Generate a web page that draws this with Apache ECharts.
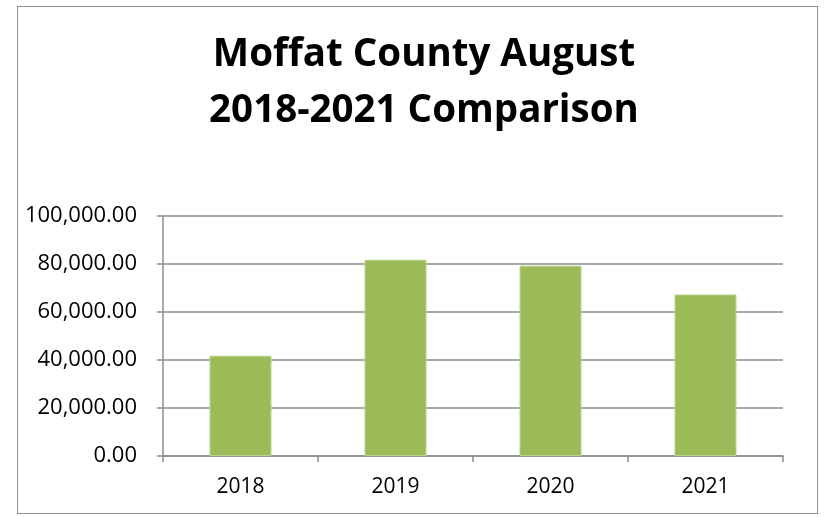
<!DOCTYPE html>
<html><head><meta charset="utf-8">
<script src="https://cdn.jsdelivr.net/npm/echarts@6/dist/echarts.min.js"></script>
<style>html,body{margin:0;padding:0;background:#fff}#c{width:827px;height:517px}
#frame{position:absolute;left:17px;top:6px;width:801px;height:508px;border:1.5px solid #8c8c8c;box-sizing:border-box;pointer-events:none}</style>
</head><body><div id="c"></div><div id="frame"></div>
<script>
var titleText = 'Moffat County August\n2018-2021 Comparison';
var categories = ['2018', '2019', '2020', '2021'];
var values = [41800, 81800, 79300, 67300];
var yTicks = [0, 20000, 40000, 60000, 80000, 100000];

var chart = echarts.init(document.getElementById('c'));
chart.setOption({
  animation: false,
  title: {
    text: titleText, left: 419, top: 22, textAlign: 'center',
    textStyle: { fontFamily: 'Open Sans', fontWeight: 'bold', fontSize: 38.5, lineHeight: 56, color: '#000' }
  },
  grid: { left: 163, right: 44, top: 216, bottom: 61, containLabel: false },
  xAxis: {
    type: 'category', data: categories,
    axisLine: { lineStyle: { color: '#8c8c8c', width: 1.5 } },
    axisTick: { show: true, length: 6, lineStyle: { color: '#8c8c8c', width: 1.5 } },
    axisLabel: { color: '#000', fontFamily: 'Open Sans', fontSize: 21, margin: 21 }
  },
  yAxis: {
    type: 'value', min: yTicks[0], max: yTicks[yTicks.length - 1], interval: 20000,
    axisLine: { show: true, lineStyle: { color: '#8c8c8c', width: 1.5 } },
    axisTick: { show: true, length: 6, lineStyle: { color: '#8c8c8c', width: 1.5 } },
    splitLine: { lineStyle: { color: '#8c8c8c', width: 1.5 } },
    axisLabel: {
      color: '#000', fontFamily: 'Open Sans', fontSize: 22, margin: 26,
      formatter: function (v) { return v.toLocaleString('en-US', { minimumFractionDigits: 2, maximumFractionDigits: 2 }); }
    }
  },
  series: [{
    type: 'bar', data: values, barWidth: 62,
    itemStyle: { color: '#9bbb59', borderColor: '#b9d38a', borderWidth: 1 }
  }]
});
</script></body></html>
